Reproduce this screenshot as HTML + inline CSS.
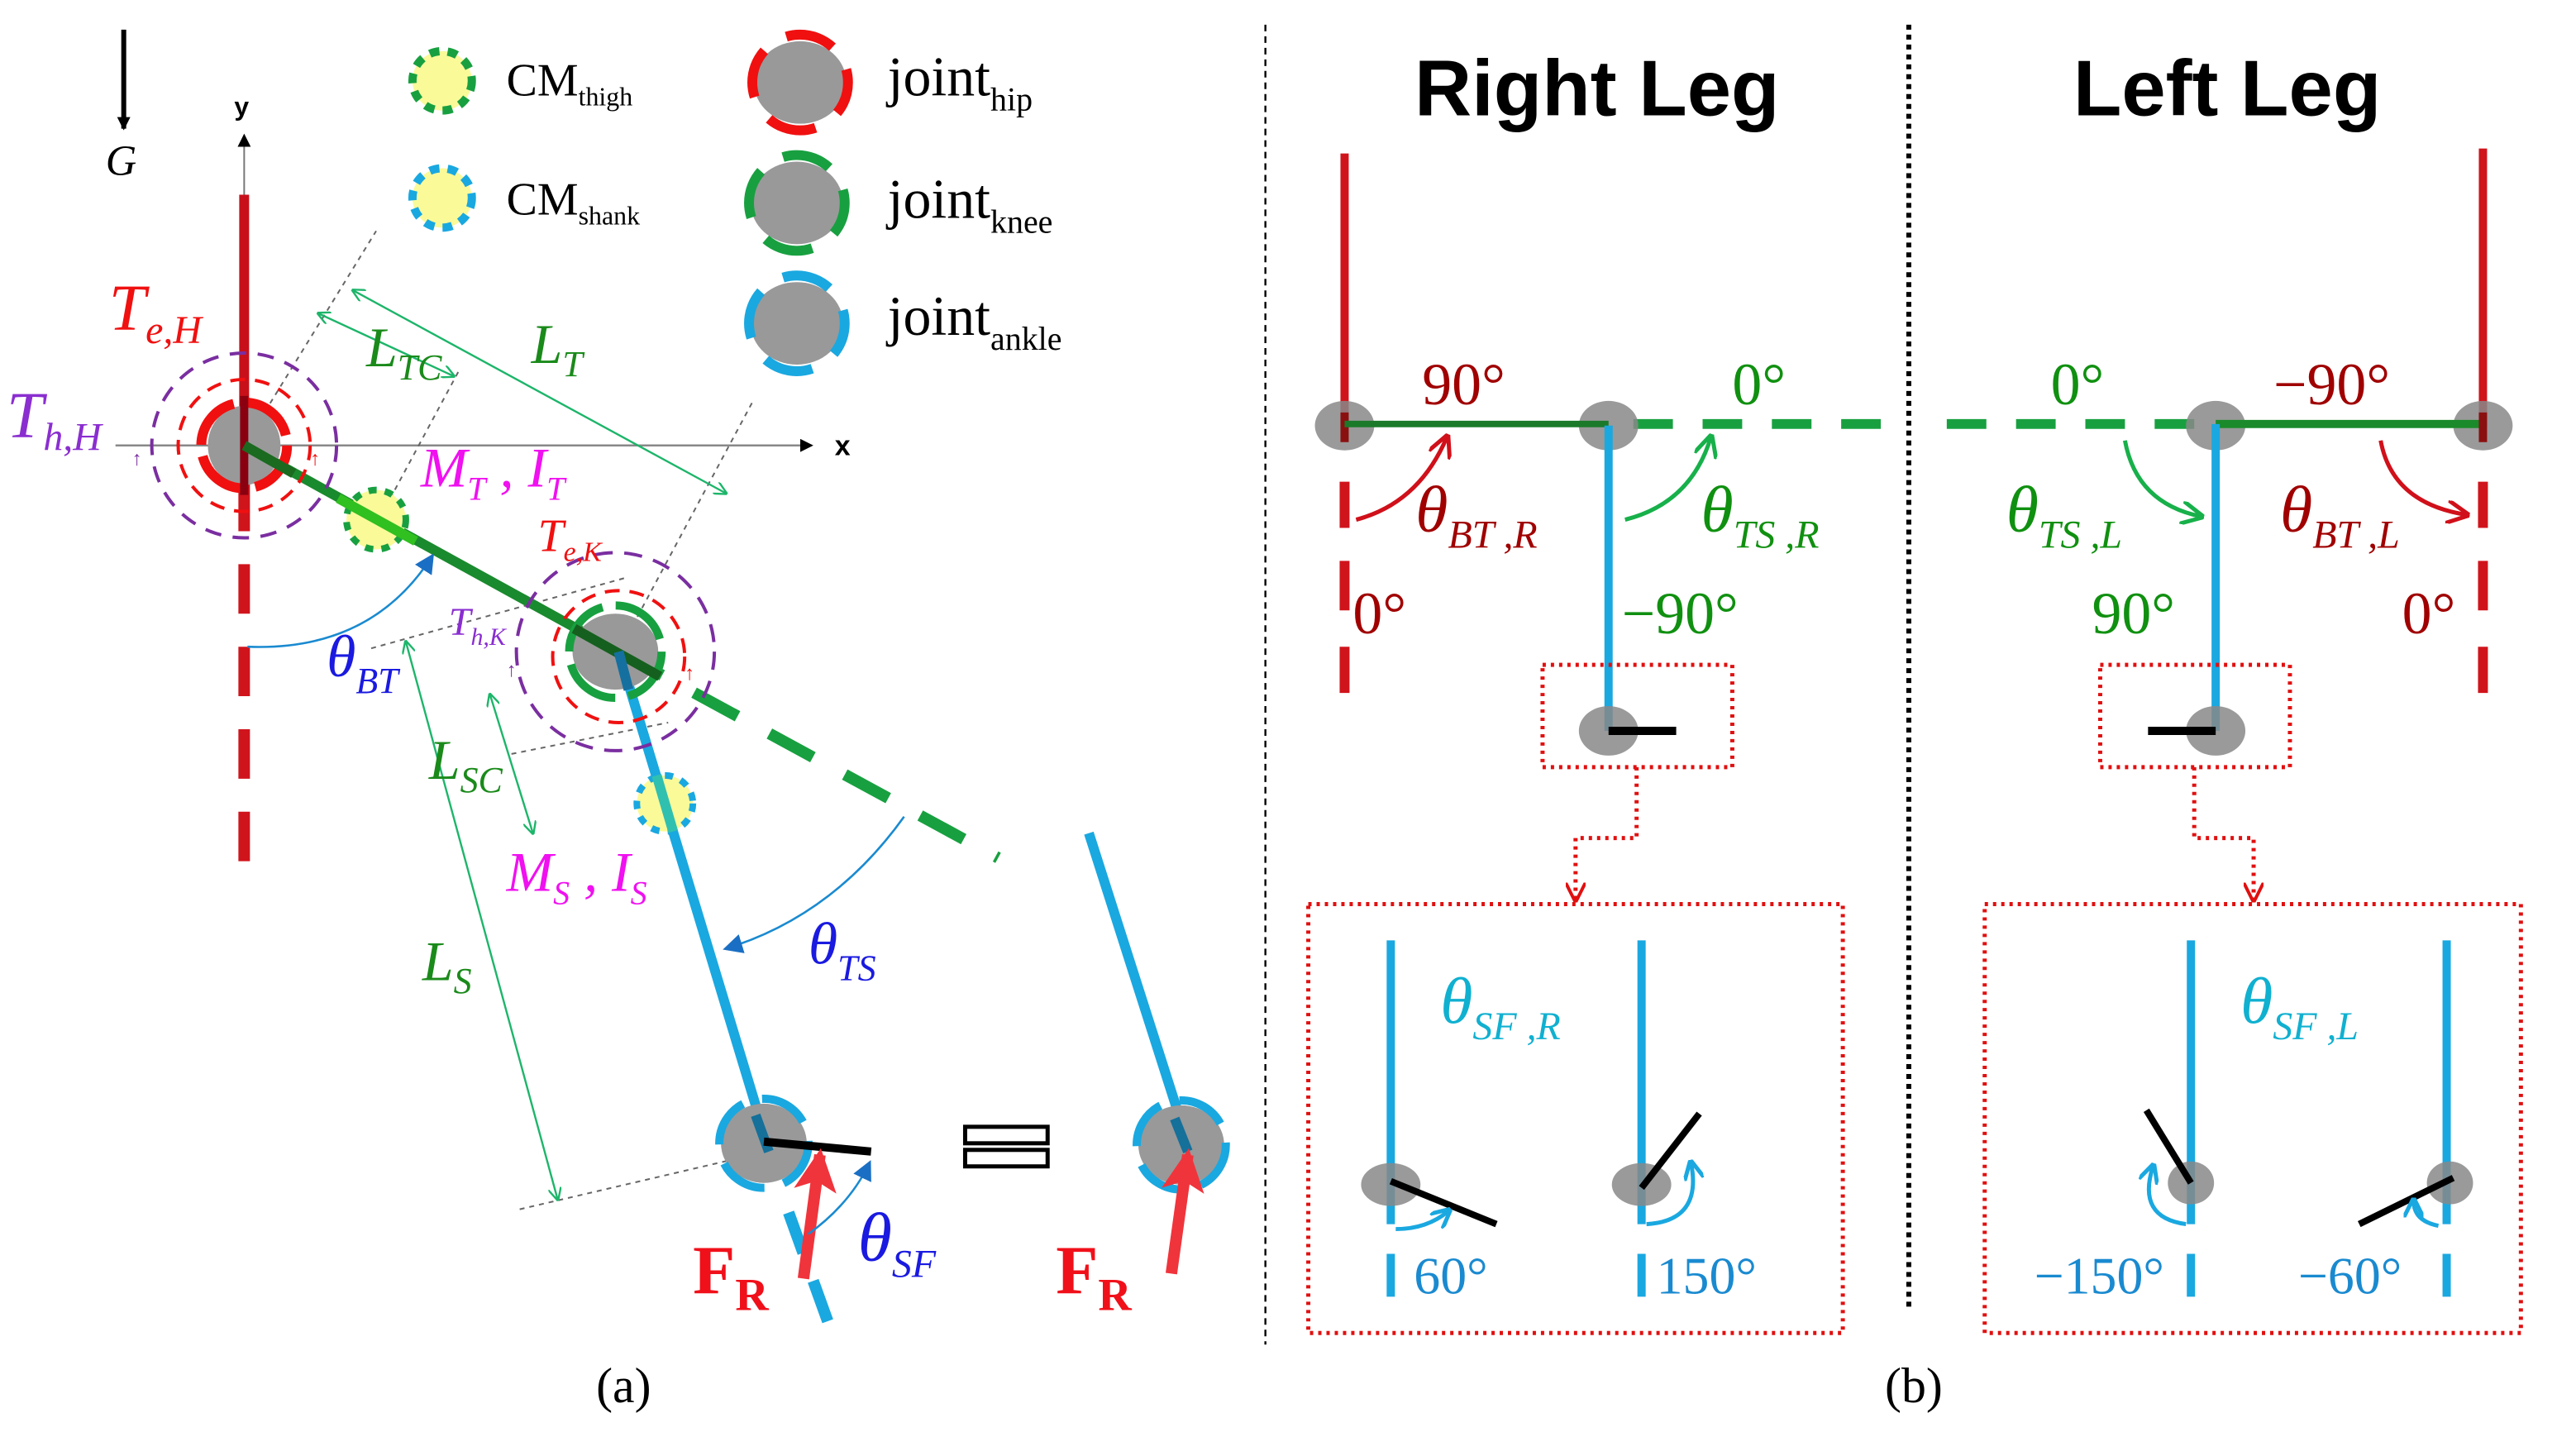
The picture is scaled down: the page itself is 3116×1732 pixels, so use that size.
<!DOCTYPE html>
<html><head><meta charset="utf-8"><style>
html,body{margin:0;padding:0;background:#fff;width:3116px;height:1732px;overflow:hidden}
svg{display:block}
text{font-family:"Liberation Serif",serif}
.it{font-style:italic}
.sans{font-family:"Liberation Sans",sans-serif;font-weight:bold}
</style></head><body>
<svg width="3116" height="1732" viewBox="0 0 1561.4 868" preserveAspectRatio="none" xmlns="http://www.w3.org/2000/svg">
<defs>
<marker id="ab" markerWidth="8" markerHeight="8" refX="7" refY="4" orient="auto" markerUnits="userSpaceOnUse"><path d="M0,0 L8,4 L0,8 z" fill="#000"/></marker>
<marker id="ag" markerWidth="8" markerHeight="8" refX="7" refY="4" orient="auto" markerUnits="userSpaceOnUse"><path d="M0,0 L8,4 L0,8" fill="none" stroke="#1db56a" stroke-width="1.2"/></marker>
<marker id="ag2" markerWidth="8" markerHeight="8" refX="1" refY="4" orient="auto" markerUnits="userSpaceOnUse"><path d="M8,0 L0,4 L8,8" fill="none" stroke="#1db56a" stroke-width="1.2"/></marker>
<marker id="abl" markerWidth="12" markerHeight="12" refX="10" refY="6" orient="auto" markerUnits="userSpaceOnUse"><path d="M0,0 L12,6 L0,12 z" fill="#1a6fc4"/></marker>
<marker id="acy" markerWidth="12" markerHeight="12" refX="10" refY="6" orient="auto" markerUnits="userSpaceOnUse"><path d="M0,0 L12,6 L0,12" fill="none" stroke="#1aa8e0" stroke-width="2.5"/></marker>
<marker id="ard" markerWidth="14" markerHeight="14" refX="12" refY="7" orient="auto" markerUnits="userSpaceOnUse"><path d="M0,0 L14,7 L0,14" fill="none" stroke="#d0101a" stroke-width="2.5"/></marker>
<marker id="agr" markerWidth="14" markerHeight="14" refX="12" refY="7" orient="auto" markerUnits="userSpaceOnUse"><path d="M0,0 L14,7 L0,14" fill="none" stroke="#17b04a" stroke-width="2.5"/></marker>
<marker id="ardd" markerWidth="12" markerHeight="12" refX="10" refY="6" orient="auto" markerUnits="userSpaceOnUse"><path d="M0,0 L12,6 L0,12" fill="none" stroke="#e01010" stroke-width="2"/></marker>
<marker id="afr" markerWidth="26" markerHeight="26" refX="22" refY="13" orient="auto" markerUnits="userSpaceOnUse"><path d="M0,0 L26,13 L0,26 L6,13 z" fill="#f0343c"/></marker>
</defs>

<!-- ===== Panel (a) ===== -->
<line x1="75" y1="18" x2="75" y2="78" stroke="#000" stroke-width="3" marker-end="url(#ab)"/>
<text x="64" y="106" font-size="26" class="it">G</text>
<line x1="148" y1="290" x2="148" y2="82" stroke="#777" stroke-width="1" marker-end="url(#ab)"/>
<text x="142" y="70" font-size="16" class="sans">y</text>
<line x1="70" y1="270" x2="492" y2="270" stroke="#888" stroke-width="1.2" marker-end="url(#ab)"/>
<text x="506" y="276" font-size="17" class="sans">x</text>
<line x1="148" y1="118" x2="148" y2="270" stroke="#c8101a" stroke-width="6"/>
<line x1="148" y1="292" x2="148" y2="535" stroke="#d0141c" stroke-width="7" stroke-dasharray="30,20"/>
<g stroke="#666" stroke-width="1" stroke-dasharray="3,3" fill="none">
<line x1="148" y1="270" x2="228" y2="140"/>
<line x1="228" y1="318" x2="278" y2="225"/>
<line x1="375" y1="395" x2="457" y2="242"/>
<line x1="225" y1="393" x2="380" y2="350"/>
<line x1="310" y1="457" x2="405" y2="438"/>
<line x1="315" y1="733" x2="465" y2="698"/>
</g>
<g stroke="#1db56a" stroke-width="1.2" fill="none">
<line x1="193" y1="190" x2="275" y2="228" marker-start="url(#ag2)" marker-end="url(#ag)"/>
<line x1="214" y1="176" x2="440" y2="299" marker-start="url(#ag2)" marker-end="url(#ag)"/>
<line x1="297" y1="421" x2="323" y2="505" marker-start="url(#ag2)" marker-end="url(#ag)"/>
<line x1="246" y1="389" x2="338" y2="727" marker-start="url(#ag2)" marker-end="url(#ag)"/>
</g>
<line x1="148" y1="270" x2="375" y2="395" stroke="#1a8a2e" stroke-width="6"/>
<line x1="375" y1="395" x2="605" y2="520" stroke="#18a040" stroke-width="7" stroke-dasharray="30,22"/>
<ellipse cx="148" cy="270" rx="22" ry="24" fill="#999"/>
<circle cx="148" cy="270" r="26" fill="none" stroke="#f01010" stroke-width="6" stroke-dasharray="34,7"/>
<circle cx="148" cy="270" r="40" fill="none" stroke="#f01010" stroke-width="2" stroke-dasharray="9,6"/>
<circle cx="148" cy="270" r="56" fill="none" stroke="#7a2ea0" stroke-width="2" stroke-dasharray="10,7"/>
<line x1="148" y1="240" x2="148" y2="300" stroke="#8a0010" stroke-width="5"/>
<line x1="148" y1="270" x2="178" y2="287" stroke="#1a6a20" stroke-width="6"/>
<text x="188" y="282" font-size="12" fill="#f01010" font-weight="bold">↑</text>
<text x="80" y="282" font-size="12" fill="#7a2ea0" font-weight="bold">↑</text>
<circle cx="228" cy="315" r="18" fill="#fafa99" stroke="#18a040" stroke-width="4" stroke-dasharray="5,5"/>
<line x1="205" y1="302" x2="252" y2="328" stroke="#30c020" stroke-width="6"/>
<line x1="375" y1="395" x2="465" y2="693" stroke="#1aa8e0" stroke-width="6"/>
<line x1="478" y1="735" x2="505" y2="810" stroke="#1aa8e0" stroke-width="7" stroke-dasharray="26,18"/>
<ellipse cx="373" cy="395" rx="26" ry="23" fill="#999"/>
<circle cx="373" cy="395" r="28" fill="none" stroke="#18a040" stroke-width="5" stroke-dasharray="36,8"/>
<circle cx="375" cy="398" r="40" fill="none" stroke="#f01010" stroke-width="2" stroke-dasharray="9,6"/>
<circle cx="373" cy="395" r="60" fill="none" stroke="#7a2ea0" stroke-width="2" stroke-dasharray="11,7"/>
<line x1="348" y1="381" x2="400" y2="410" stroke="#15601e" stroke-width="6"/>
<line x1="375" y1="395" x2="381" y2="418" stroke="#1570a0" stroke-width="6"/>
<text x="415" y="412" font-size="12" fill="#f01010" font-weight="bold">↑</text>
<text x="307" y="410" font-size="12" fill="#7a2ea0" font-weight="bold">↑</text>
<circle cx="403" cy="487" r="17" fill="#fafa99" stroke="#1aa8e0" stroke-width="4" stroke-dasharray="5,5"/>
<line x1="398" y1="470" x2="408" y2="504" stroke="#30c0b0" stroke-width="6"/>
<ellipse cx="463" cy="693" rx="26" ry="24" fill="#999"/>
<circle cx="463" cy="693" r="27" fill="none" stroke="#1aa8e0" stroke-width="5" stroke-dasharray="30,12"/>
<line x1="458" y1="676" x2="466" y2="698" stroke="#15709a" stroke-width="6"/>
<line x1="463" y1="692" x2="528" y2="698" stroke="#000" stroke-width="5"/>
<line x1="660" y1="505" x2="720" y2="693" stroke="#1aa8e0" stroke-width="6"/>
<ellipse cx="716" cy="694" rx="26" ry="24" fill="#999"/>
<circle cx="716" cy="694" r="27" fill="none" stroke="#1aa8e0" stroke-width="5" stroke-dasharray="30,12"/>
<line x1="712" y1="678" x2="720" y2="698" stroke="#15709a" stroke-width="6"/>
<rect x="585" y="683" width="50" height="10" fill="none" stroke="#000" stroke-width="2.5"/>
<rect x="585" y="697" width="50" height="10" fill="none" stroke="#000" stroke-width="2.5"/>
<line x1="487" y1="775" x2="497" y2="700" stroke="#f0343c" stroke-width="7" marker-end="url(#afr)"/>
<line x1="710" y1="772" x2="720" y2="700" stroke="#f0343c" stroke-width="7" marker-end="url(#afr)"/>
<text x="420" y="784" font-size="42" fill="#f0101a" font-weight="bold">F<tspan font-size="28" dy="10">R</tspan></text>
<text x="640" y="784" font-size="42" fill="#f0101a" font-weight="bold">F<tspan font-size="28" dy="10">R</tspan></text>
<path d="M150,392 Q225,395 262,337" fill="none" stroke="#1a8ad0" stroke-width="1.3" marker-end="url(#abl)"/>
<path d="M548,495 Q505,555 440,575" fill="none" stroke="#1a8ad0" stroke-width="1.3" marker-end="url(#abl)"/>
<path d="M490,748 Q515,730 527,705" fill="none" stroke="#1a8ad0" stroke-width="1.3" marker-end="url(#abl)"/>
<text x="66" y="200" font-size="40" fill="#f01010" class="it">T<tspan font-size="24" dy="8">e,H</tspan></text>
<text x="4" y="265" font-size="40" fill="#8a2ed0" class="it">T<tspan font-size="24" dy="8">h,H</tspan></text>
<text x="222" y="222" font-size="34" fill="#1a8a1a" class="it">L<tspan font-size="22" dy="8">TC</tspan></text>
<text x="322" y="220" font-size="34" fill="#1a8a1a" class="it">L<tspan font-size="22" dy="8">T</tspan></text>
<text x="255" y="295" font-size="34" fill="#f010f0" class="it">M<tspan font-size="20" dy="8">T</tspan><tspan dy="-8"> , I</tspan><tspan font-size="20" dy="8">T</tspan></text>
<text x="326" y="334" font-size="28" fill="#f01010" class="it">T<tspan font-size="17" dy="6">e,K</tspan></text>
<text x="272" y="385" font-size="24" fill="#8a2ed0" class="it">T<tspan font-size="15" dy="6">h,K</tspan></text>
<text x="198" y="410" font-size="36" fill="#1a1ae0" class="it">θ<tspan font-size="22" dy="10">BT</tspan></text>
<text x="260" y="472" font-size="34" fill="#1a8a1a" class="it">L<tspan font-size="22" dy="8">SC</tspan></text>
<text x="307" y="540" font-size="34" fill="#f010f0" class="it">M<tspan font-size="20" dy="8">S</tspan><tspan dy="-8"> , I</tspan><tspan font-size="20" dy="8">S</tspan></text>
<text x="256" y="594" font-size="34" fill="#1a8a1a" class="it">L<tspan font-size="22" dy="8">S</tspan></text>
<text x="490" y="584" font-size="36" fill="#1a1ae0" class="it">θ<tspan font-size="22" dy="10">TS</tspan></text>
<text x="520" y="764" font-size="42" fill="#1a1ae0" class="it">θ<tspan font-size="24" dy="10">SF</tspan></text>
<circle cx="268" cy="49" r="18" fill="#fafa99" stroke="#18a040" stroke-width="5" stroke-dasharray="6,5"/>
<circle cx="268" cy="120" r="18" fill="#fafa99" stroke="#1aa8e0" stroke-width="5" stroke-dasharray="6,5"/>
<text x="307" y="58" font-size="28">CM<tspan font-size="16" dy="6">thigh</tspan></text>
<text x="307" y="130" font-size="28">CM<tspan font-size="16" dy="6">shank</tspan></text>
<ellipse cx="485" cy="50" rx="28" ry="25" fill="#999"/>
<circle cx="485" cy="50" r="29" fill="none" stroke="#f01010" stroke-width="6" stroke-dasharray="30,16" stroke-dashoffset="10"/>
<ellipse cx="483" cy="123" rx="28" ry="25" fill="#999"/>
<circle cx="483" cy="123" r="29" fill="none" stroke="#18a040" stroke-width="6" stroke-dasharray="30,16" stroke-dashoffset="10"/>
<ellipse cx="483" cy="196" rx="28" ry="25" fill="#999"/>
<circle cx="483" cy="196" r="29" fill="none" stroke="#1aa8e0" stroke-width="6" stroke-dasharray="30,16" stroke-dashoffset="10"/>
<text x="538" y="58" font-size="34">joint<tspan font-size="20" dy="9">hip</tspan></text>
<text x="538" y="132" font-size="34">joint<tspan font-size="20" dy="9">knee</tspan></text>
<text x="538" y="203" font-size="34">joint<tspan font-size="20" dy="9">ankle</tspan></text>
<text x="378" y="850" font-size="30" text-anchor="middle">(a)</text>

<line x1="767" y1="15" x2="767" y2="815" stroke="#000" stroke-width="1.2" stroke-dasharray="4,3"/>
<line x1="1157" y1="15" x2="1157" y2="795" stroke="#000" stroke-width="3" stroke-dasharray="3,3"/>

<!-- ===== Panel (b) ===== -->
<text x="968" y="70" font-size="48" class="sans" text-anchor="middle">Right Leg</text>
<text x="1350" y="70" font-size="48" class="sans" text-anchor="middle">Left Leg</text>
<line x1="815" y1="93" x2="815" y2="258" stroke="#d0141c" stroke-width="5"/>
<g stroke="#d0141c" stroke-width="6">
<line x1="815" y1="292" x2="815" y2="320"/><line x1="815" y1="340" x2="815" y2="370"/><line x1="815" y1="392" x2="815" y2="420"/>
<line x1="1505" y1="292" x2="1505" y2="320"/><line x1="1505" y1="340" x2="1505" y2="370"/><line x1="1505" y1="392" x2="1505" y2="420"/>
</g>
<line x1="990" y1="257" x2="1140" y2="257" stroke="#18a040" stroke-width="6" stroke-dasharray="24,18"/>
<ellipse cx="815" cy="258" rx="18" ry="15" fill="#888" opacity="0.85"/>
<ellipse cx="975" cy="258" rx="18" ry="15" fill="#888" opacity="0.85"/>
<line x1="815" y1="250" x2="815" y2="268" stroke="#8a1010" stroke-width="5"/>
<line x1="815" y1="257" x2="975" y2="257" stroke="#1a7a2a" stroke-width="4"/>
<line x1="975" y1="258" x2="975" y2="443" stroke="#1aa8e0" stroke-width="5"/>
<ellipse cx="975" cy="443" rx="18" ry="15" fill="#888" opacity="0.85"/>
<line x1="975" y1="443" x2="1016" y2="443" stroke="#000" stroke-width="5"/>
<rect x="935" y="403" width="115" height="62" fill="none" stroke="#e01010" stroke-width="2.5" stroke-dasharray="2,3"/>
<polyline points="992,465 992,508 955,508 955,545" fill="none" stroke="#e01010" stroke-width="2.5" stroke-dasharray="2,3" marker-end="url(#ardd)"/>
<rect x="793" y="548" width="324" height="260" fill="none" stroke="#e01010" stroke-width="2.5" stroke-dasharray="2,3"/>
<path d="M822,315 Q860,305 877,265" fill="none" stroke="#d0101a" stroke-width="2.5" marker-end="url(#ard)"/>
<path d="M985,315 Q1025,305 1037,265" fill="none" stroke="#17b04a" stroke-width="2.5" marker-end="url(#agr)"/>
<text x="862" y="245" font-size="36" fill="#a00000">90°</text>
<text x="1050" y="245" font-size="36" fill="#109010">0°</text>
<text x="858" y="322" font-size="40" fill="#a00000" class="it">θ<tspan font-size="24" dy="10">BT ,R</tspan></text>
<text x="1031" y="322" font-size="40" fill="#109010" class="it">θ<tspan font-size="24" dy="10">TS ,R</tspan></text>
<text x="820" y="384" font-size="36" fill="#a00000">0°</text>
<text x="983" y="384" font-size="36" fill="#109010">−90°</text>
<!-- inset verticals -->
<g stroke="#1aa8e0" stroke-width="5">
<line x1="843" y1="570" x2="843" y2="742"/><line x1="843" y1="760" x2="843" y2="786"/>
<line x1="995" y1="570" x2="995" y2="742"/><line x1="995" y1="760" x2="995" y2="786"/>
<line x1="1328" y1="570" x2="1328" y2="742"/><line x1="1328" y1="760" x2="1328" y2="786"/>
<line x1="1483" y1="570" x2="1483" y2="742"/><line x1="1483" y1="760" x2="1483" y2="786"/>
</g>
<ellipse cx="843" cy="718" rx="18" ry="13" fill="#888" opacity="0.85"/>
<line x1="843" y1="716" x2="907" y2="742" stroke="#000" stroke-width="4"/>
<path d="M846,745 Q865,745 878,734" fill="none" stroke="#1aa8e0" stroke-width="2.5" marker-end="url(#acy)"/>
<ellipse cx="995" cy="718" rx="18" ry="13" fill="#888" opacity="0.85"/>
<line x1="995" y1="720" x2="1030" y2="675" stroke="#000" stroke-width="4"/>
<path d="M998,742 Q1032,740 1025,705" fill="none" stroke="#1aa8e0" stroke-width="2.5" marker-end="url(#acy)"/>
<text x="873" y="620" font-size="40" fill="#10b0d0" class="it">θ<tspan font-size="24" dy="10">SF ,R</tspan></text>
<text x="857" y="784" font-size="32" fill="#1a8ad0">60°</text>
<text x="1004" y="784" font-size="32" fill="#1a8ad0">150°</text>
<!-- left -->
<line x1="1505" y1="90" x2="1505" y2="258" stroke="#d0141c" stroke-width="5"/>
<line x1="1180" y1="257" x2="1330" y2="257" stroke="#18a040" stroke-width="6" stroke-dasharray="24,18"/>
<ellipse cx="1343" cy="258" rx="18" ry="15" fill="#888" opacity="0.85"/>
<ellipse cx="1505" cy="258" rx="18" ry="15" fill="#888" opacity="0.85"/>
<line x1="1343" y1="257" x2="1505" y2="257" stroke="#1a8a2a" stroke-width="5"/>
<line x1="1505" y1="250" x2="1505" y2="268" stroke="#8a1010" stroke-width="5"/>
<line x1="1343" y1="257" x2="1343" y2="443" stroke="#1aa8e0" stroke-width="5"/>
<ellipse cx="1343" cy="443" rx="18" ry="15" fill="#888" opacity="0.85"/>
<line x1="1302" y1="443" x2="1343" y2="443" stroke="#000" stroke-width="5"/>
<rect x="1273" y="403" width="115" height="62" fill="none" stroke="#e01010" stroke-width="2.5" stroke-dasharray="2,3"/>
<polyline points="1330,465 1330,508 1366,508 1366,545" fill="none" stroke="#e01010" stroke-width="2.5" stroke-dasharray="2,3" marker-end="url(#ardd)"/>
<rect x="1203" y="548" width="325" height="260" fill="none" stroke="#e01010" stroke-width="2.5" stroke-dasharray="2,3"/>
<path d="M1288,267 Q1295,305 1334,313" fill="none" stroke="#17b04a" stroke-width="2.5" marker-end="url(#agr)"/>
<path d="M1443,267 Q1450,305 1495,312" fill="none" stroke="#d0101a" stroke-width="2.5" marker-end="url(#ard)"/>
<text x="1243" y="245" font-size="36" fill="#109010">0°</text>
<text x="1378" y="245" font-size="36" fill="#a00000">−90°</text>
<text x="1216" y="322" font-size="40" fill="#109010" class="it">θ<tspan font-size="24" dy="10">TS ,L</tspan></text>
<text x="1382" y="322" font-size="40" fill="#a00000" class="it">θ<tspan font-size="24" dy="10">BT ,L</tspan></text>
<text x="1268" y="384" font-size="36" fill="#109010">90°</text>
<text x="1456" y="384" font-size="36" fill="#a00000">0°</text>
<ellipse cx="1328" cy="717" rx="14" ry="13" fill="#888" opacity="0.85"/>
<line x1="1328" y1="717" x2="1301" y2="673" stroke="#000" stroke-width="4"/>
<path d="M1325,742 Q1295,738 1305,707" fill="none" stroke="#1aa8e0" stroke-width="2.5" marker-end="url(#acy)"/>
<ellipse cx="1485" cy="717" rx="14" ry="13" fill="#888" opacity="0.85"/>
<line x1="1487" y1="714" x2="1430" y2="742" stroke="#000" stroke-width="4"/>
<path d="M1478,743 Q1463,740 1463,728" fill="none" stroke="#1aa8e0" stroke-width="2.5" marker-end="url(#acy)"/>
<text x="1358" y="620" font-size="40" fill="#10b0d0" class="it">θ<tspan font-size="24" dy="10">SF ,L</tspan></text>
<text x="1233" y="784" font-size="32" fill="#1a8ad0">−150°</text>
<text x="1393" y="784" font-size="32" fill="#1a8ad0">−60°</text>
<text x="1160" y="850" font-size="30" text-anchor="middle">(b)</text>
</svg>
</body></html>
